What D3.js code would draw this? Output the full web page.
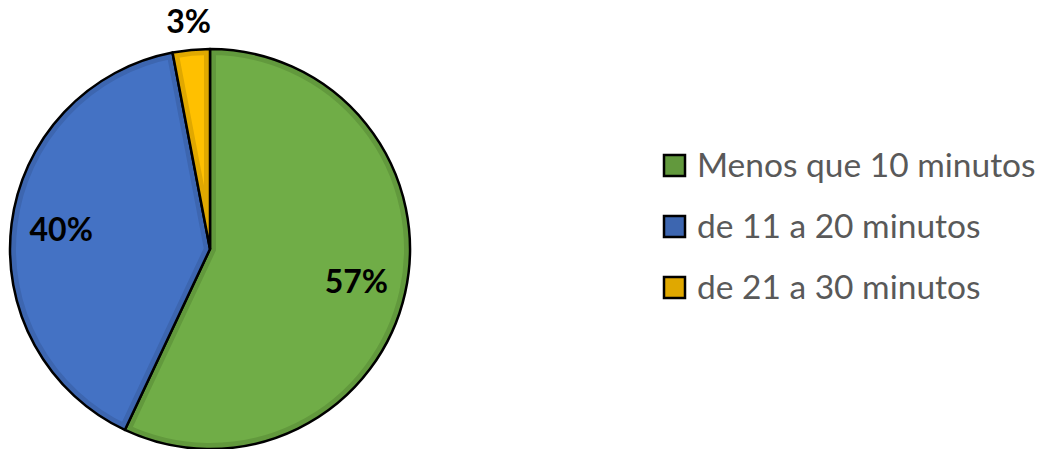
<!DOCTYPE html>
<html>
<head>
<meta charset="utf-8">
<script src="https://cdn.jsdelivr.net/npm/d3@7"></script>
<style>
  body { margin: 0; background: #fff; }
  svg { display: block; }
</style>
</head>
<body>
<svg width="1054" height="449"></svg>
<script>
// categorias e valores (%)
const categories = ["Menos que 10 minutos", "de 11 a 20 minutos", "de 21 a 30 minutos"];
const values = [57, 40, 3];
const fills = ["#70AD47", "#4472C4", "#FFC000"];
const edges = ["#62993d", "#3d66b0", "#e0a800"];

const svg = d3.select("svg"),
    width = +svg.attr("width"),
    height = +svg.attr("height");

const cx = 210, cy = 249, r = 200;

const pie = d3.pie().sort(null).value(d => d)(values);
const arc = d3.arc().innerRadius(0).outerRadius(r);

const g = svg.append("g").attr("transform", `translate(${cx},${cy})`);
const defs = svg.append("defs");

pie.forEach((d, i) => {
    defs.append("clipPath").attr("id", "clip" + i)
        .append("path").attr("d", arc(d));
});

const slice = g.selectAll("g.slice")
    .data(pie)
    .enter().append("g")
    .classed("slice", true);

slice.append("path")
    .attr("d", arc)
    .attr("fill", (d, i) => fills[i]);

// borda interna mais escura
slice.append("path")
    .attr("d", arc)
    .attr("fill", "none")
    .attr("stroke", (d, i) => edges[i])
    .attr("stroke-width", 12)
    .attr("clip-path", (d, i) => `url(#clip${i})`);

slice.append("path")
    .attr("d", arc)
    .attr("fill", "none")
    .attr("stroke", "#000")
    .attr("stroke-width", 2.5)
    .attr("stroke-linejoin", "round");

// rótulos
const labelArc = d3.arc().innerRadius(r * 0.75).outerRadius(r * 0.75);
const outerArc = d3.arc().innerRadius(r * 1.14).outerRadius(r * 1.14);

g.selectAll("text.lbl")
    .data(pie)
    .enter().append("text")
    .classed("lbl", true)
    .attr("transform", d => `translate(${(d.data < 5 ? outerArc : labelArc).centroid(d)})`)
    .attr("text-anchor", "middle")
    .attr("dy", "0.35em")
    .style("font-family", "Lato, 'Open Sans', sans-serif")
    .style("font-weight", "bold")
    .style("font-size", "32px")
    .attr("fill", "#000")
    .text(d => d.data + "%");

// legenda
const legend = svg.append("g").attr("transform", "translate(663,165)");
const item = legend.selectAll("g")
    .data(categories)
    .enter().append("g")
    .attr("transform", (d, i) => `translate(0,${i * 61})`);

item.append("rect")
    .attr("x", 1).attr("y", -10)
    .attr("width", 21).attr("height", 21)
    .attr("fill", (d, i) => edges[i])
    .attr("stroke", "#000")
    .attr("stroke-width", 2.5);

item.append("text")
    .attr("x", 34)
    .attr("dy", "0.35em")
    .style("font-family", "Lato, 'Open Sans', sans-serif")
    .style("font-size", "33.5px")
    .attr("fill", "#595959")
    .text(d => d);
</script>
</body>
</html>
